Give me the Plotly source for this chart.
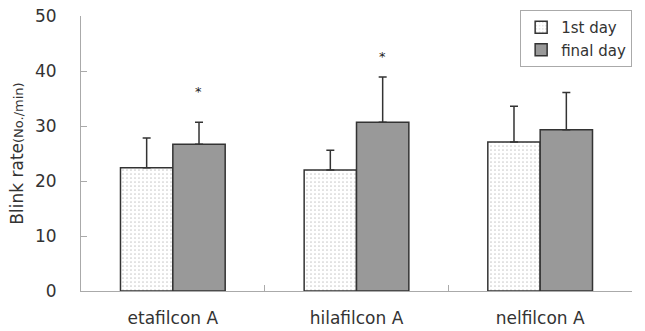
import plotly.graph_objects as go

categories = ["etafilcon A", "hilafilcon A", "nelfilcon A"]
first_day = [22.4, 22.0, 27.1]
first_day_sd = [5.4, 3.6, 6.5]
final_day = [26.7, 30.7, 29.3]
final_day_sd = [4.0, 8.2, 6.8]
star_y = [36.2, 42.7]
star_cats = ["etafilcon A", "hilafilcon A"]

FONT = "DejaVu Sans, sans-serif"

fig = go.Figure()
fig.add_trace(go.Bar(
    name="1st day", x=categories, y=first_day,
    marker=dict(color="white", line=dict(color="#333333", width=1.5),
                pattern=dict(shape=".", size=4, solidity=0.15, fgcolor="#999999", bgcolor="white")),
    error_y=dict(type="data", array=first_day_sd, arrayminus=[0]*3, symmetric=False,
                 color="#333333", thickness=1.5, width=4),
))
fig.add_trace(go.Bar(
    name="final day", x=categories, y=final_day,
    marker=dict(color="#999999", line=dict(color="#333333", width=1.5)),
    error_y=dict(type="data", array=final_day_sd, arrayminus=[0]*3, symmetric=False,
                 color="#333333", thickness=1.5, width=4),
))
for c, yv in zip(star_cats, star_y):
    fig.add_annotation(x=c, y=yv, text="*", showarrow=False, xshift=26,
                       font=dict(family=FONT, size=13, color="#222222"))

fig.update_layout(
    width=645, height=331,
    margin=dict(l=81, r=13, t=16, b=40, autoexpand=False),
    plot_bgcolor="white", paper_bgcolor="white",
    barmode="group", bargap=0.43, bargroupgap=0,
    font=dict(family=FONT, size=17, color="#333333"),
    legend=dict(x=0.797, y=1.022, xanchor="left", yanchor="top",
                bordercolor="#aaaaaa", borderwidth=1, bgcolor="white",
                font=dict(size=15), tracegroupgap=0, itemwidth=30),
    showlegend=True,
)
fig.update_yaxes(range=[0, 50], dtick=10, showline=True, linecolor="#aaaaaa", linewidth=1,
                 ticks="inside", ticklen=6, tickcolor="#aaaaaa", showgrid=False, zeroline=False,
                 ticklabelstandoff=20, automargin=False, ticklabeloverflow="allow",
                 title=dict(text="Blink rate<span style='font-size:13px'>(No./min)</span>",
                            font=dict(size=17), standoff=7))
fig.update_xaxes(showline=True, linecolor="#aaaaaa", linewidth=1, ticks="inside", ticklen=6,
                 tickcolor="#aaaaaa", tickson="boundaries", showgrid=False,
                 ticklabelstandoff=12, automargin=False, ticklabeloverflow="allow")

fig.write_html("out.html", config={"displayModeBar": False},
               post_script="document.body.style.margin='0';")
